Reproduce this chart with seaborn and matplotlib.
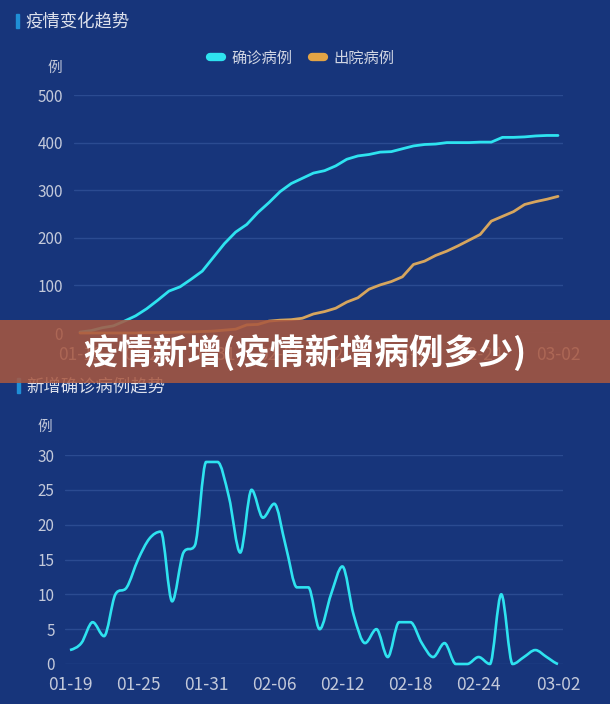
import numpy as np
import pandas as pd
import matplotlib
matplotlib.use("Agg")
import matplotlib.pyplot as plt
import seaborn as sns
from matplotlib.path import Path
from matplotlib.patches import PathPatch, Rectangle
from matplotlib.lines import Line2D

# data
dates = list(pd.date_range("2020-01-19", "2020-03-02").strftime("%m-%d"))
tick_labels = ["01-19", "01-25", "01-31", "02-06", "02-12", "02-18", "02-24", "03-02"]

confirmed = [2, 5, 11, 15, 25, 36, 51, 69, 88, 97,
             113, 130, 159, 188, 212, 228, 253, 274, 297, 314,
             325, 336, 341, 351, 365, 372, 375, 380, 381, 387,
             393, 396, 397, 400, 400, 400, 401, 401, 411, 411,
             412, 414, 415, 415]
discharged = [0, 0, 0, 0, 0, 0, 1, 1, 1, 2,
              2, 3, 4, 6, 8, 17, 18, 25, 27, 28,
              31, 40, 45, 52, 65, 74, 92, 101, 108, 118,
              144, 151, 163, 172, 183, 195, 207, 235, 245, 255,
              270, 276, 281, 287]
new_cases = [2, 3, 6, 4, 10, 11, 15, 18, 19, 9,
             16, 17, 29, 29, 24, 16, 25, 21, 23, 17,
             11, 11, 5, 10, 14, 7, 3, 5, 1, 6,
             6, 3, 1, 3, 0, 0, 1, 0, 10, 0,
             1, 2, 1, 0]

BG = "#17357b"
GRID = "#2b4b91"
CYAN = "#2ee3f0"
ORANGE = "#d6a55e"
TICK = "#c3c9da"
TITLE = "#dde1ec"

sns.set_style("dark", rc={"axes.facecolor": BG, "figure.facecolor": BG})
plt.rcParams["font.family"] = ["Noto Sans CJK SC", "DejaVu Sans"]
plt.rcParams["axes.unicode_minus"] = False


def smooth_path(xs, ys):
    # monotone cubic bezier, like echarts "smooth" lines
    xs = np.asarray(xs, float)
    ys = np.asarray(ys, float)
    n = len(xs)
    d = np.diff(ys) / np.diff(xs)
    m = np.zeros(n)
    for i in range(1, n - 1):
        if d[i - 1] * d[i] > 0:
            s = (d[i - 1] + d[i]) / 2
            m[i] = np.sign(s) * min(abs(s), 3 * abs(d[i - 1]), 3 * abs(d[i]))
    m[0] = d[0] * 0.5
    m[-1] = d[-1] * 0.5
    verts = [(xs[0], ys[0])]
    codes = [Path.MOVETO]
    for i in range(n - 1):
        h = xs[i + 1] - xs[i]
        verts += [(xs[i] + h / 3, ys[i] + m[i] * h / 3),
                  (xs[i + 1] - h / 3, ys[i + 1] - m[i + 1] * h / 3),
                  (xs[i + 1], ys[i + 1])]
        codes += [Path.CURVE4] * 3
    return Path(verts, codes)


W, H = 610, 704
fig = plt.figure(figsize=(W / 100, H / 100), dpi=100, facecolor=BG)
ax1 = fig.add_axes([74 / W, 1 - 333 / H, (563 - 74) / W, (333 - 95) / H])
ax2 = fig.add_axes([65 / W, 1 - 664 / H, (563 - 65) / W, (664 - 455) / H])

days = np.arange(len(dates))
tick_pos = [dates.index(t) for t in tick_labels]

# top chart
top = pd.DataFrame({
    "day": np.concatenate([days, days]),
    "value": confirmed + discharged,
    "kind": ["确诊病例"] * len(days) + ["出院病例"] * len(days),
})
sns.lineplot(data=top, x="day", y="value", hue="kind",
             palette={"确诊病例": CYAN, "出院病例": ORANGE},
             linewidth=2.0, ax=ax1, legend=False)
for ln in ax1.lines:
    ln.set_clip_on(False)
    ln.set_solid_capstyle("round")
ax1.set_xlim(-0.54, 43.45)
ax1.set_ylim(0, 500)
ax1.set_yticks(range(0, 501, 100))

# bottom chart
ax2.add_patch(PathPatch(smooth_path(days, new_cases), facecolor="none",
                        edgecolor=CYAN, linewidth=1.9, clip_on=False))
ax2.set_xlim(-0.44, 43.44)
ax2.set_ylim(0, 30)
ax2.set_yticks(range(0, 31, 5))

for ax, xpad, ypad in [(ax1, 9.5, 8), (ax2, 8.5, 7.5)]:
    ax.set_facecolor(BG)
    ax.set_xticks(tick_pos)
    ax.set_xticklabels(tick_labels)
    ax.set_xlabel("")
    ax.set_ylabel("")
    for s in ax.spines.values():
        s.set_visible(False)
    ax.grid(False)
    ax.grid(True, axis="y", color=GRID, linewidth=1.0)
    ax.tick_params(axis="x", length=0, colors=TICK, labelsize=12.5, pad=xpad)
    ax.tick_params(axis="y", length=0, colors=TICK, labelsize=11, pad=ypad)

# titles and unit labels
fig.text(25 / W, 1 - 21 / H, "疫情变化趋势", va="center", ha="left",
         fontsize=12.5, color=TITLE)
fig.add_artist(Rectangle((16 / W, 1 - 28 / H), 3 / W, 14 / H,
                         transform=fig.transFigure, color="#1f8fd6"))
fig.text(26 / W, 1 - 386 / H, "新增确诊病例趋势", va="center", ha="left",
         fontsize=12.5, color=TITLE)
fig.add_artist(Rectangle((17 / W, 1 - 393 / H), 3 / W, 15 / H,
                         transform=fig.transFigure, color="#1f8fd6"))
fig.text(55 / W, 1 - 68 / H, "例", ha="center", va="center", fontsize=10.5, color=TICK)
fig.text(45 / W, 1 - 427 / H, "例", ha="center", va="center", fontsize=10.5, color=TICK)

handles = [Line2D([], [], color=CYAN, lw=6, solid_capstyle="round"),
           Line2D([], [], color="#e3a445", lw=6, solid_capstyle="round")]
fig.legend(handles, ["确诊病例", "出院病例"], loc="center",
           bbox_to_anchor=(302 / W, 1 - 58 / H), ncol=2, frameon=False,
           fontsize=11, labelcolor="#d0d5e3", handlelength=0.8,
           handletextpad=0.6, columnspacing=1.3)

# banner overlay
fig.add_artist(Rectangle((0, 1 - 383 / H), 1, 63 / H, transform=fig.transFigure,
                         facecolor=(169 / 255, 87 / 255, 63 / 255), alpha=0.86,
                         edgecolor="none", zorder=5))
fig.text(304.5 / W, 1 - 353 / H, "疫情新增(疫情新增病例多少)", ha="center", va="center",
         fontsize=25, fontweight="black", color="white", zorder=6)

fig.savefig("out.png", dpi=100, facecolor=BG)
